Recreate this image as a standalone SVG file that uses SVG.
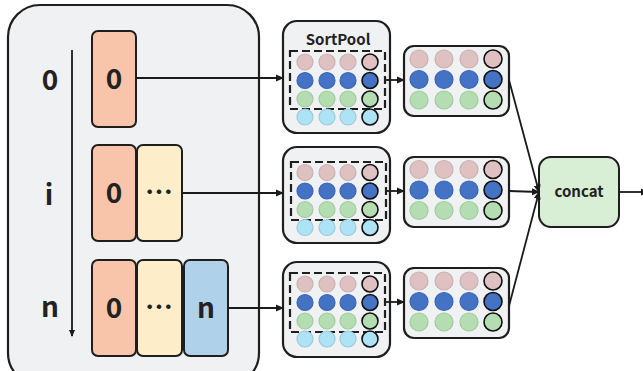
<svg xmlns="http://www.w3.org/2000/svg" width="643" height="371" viewBox="0 0 643 371">
<defs>
<marker id="ah" markerWidth="8" markerHeight="8" refX="7" refY="4" orient="auto" markerUnits="userSpaceOnUse">
<path d="M0,0.5 L8,4 L0,7.5 Z" fill="#1a1a1a"/>
</marker>
<marker id="ahs" markerWidth="7" markerHeight="7" refX="6" refY="3.5" orient="auto" markerUnits="userSpaceOnUse">
<path d="M0,0.5 L7,3.5 L0,6.5 Z" fill="#1a1a1a"/>
</marker>
</defs>
<style>
text{font-family:"Noto Sans CJK SC","Noto Sans",sans-serif;fill:#222;text-anchor:middle}
.big{font-size:28px;font-weight:bold}
.lbl{font-size:15px;font-weight:bold}
.frame{fill:#f0f1f3;stroke:#1e1e1e;stroke-width:2.2}
.blk{stroke:#1e1e1e;stroke-width:2}
.s{fill:#f8c5aa}.c{fill:#fdedc9}.b{fill:#b0d1ea}
.pk{fill:#dfc1c1;stroke:#c8b2b2;stroke-width:1.2}
.bl{fill:#4472c4;stroke:#3b66b4;stroke-width:1.2}
.gr{fill:#b4deb2;stroke:#a3caa1;stroke-width:1.2}
.lb{fill:#aee2f5;stroke:#9ccadd;stroke-width:1.2}
.k{stroke:#111;stroke-width:1.6}
.dash{fill:none;stroke:#1e1e1e;stroke-width:2.2;stroke-dasharray:8,4}
.ln{fill:none;stroke:#1a1a1a;stroke-width:1.8}
</style>

<g id="container">
<rect class="frame" x="8" y="5" width="251" height="380" rx="32"/>
<line class="ln" x1="72" y1="50" x2="72" y2="336" stroke-width="1.5" marker-end="url(#ahs)"/>
<text class="big" x="50" y="90">0</text>
<text class="big" x="49" y="205">i</text>
<text class="big" x="50" y="317">n</text>
</g>

<g id="seq0">
<rect class="blk s" x="92" y="31" width="44" height="96" rx="6"/>
<text class="big" x="114" y="89">0</text>
</g>
<g id="seqi">
<rect class="blk s" x="92" y="145" width="44" height="96" rx="6"/>
<rect class="blk c" x="137" y="145" width="45" height="96" rx="6"/>
<text class="big" x="114" y="203">0</text>
<text class="big" x="159" y="203">…</text>
</g>
<g id="seqn">
<rect class="blk s" x="92" y="260" width="44" height="96" rx="6"/>
<rect class="blk c" x="137" y="260" width="45" height="96" rx="6"/>
<rect class="blk b" x="184" y="260" width="44" height="96" rx="6"/>
<text class="big" x="114" y="318">0</text>
<text class="big" x="159" y="318">…</text>
<text class="big" x="206" y="318">n</text>
</g>

<g id="sortpool1">
<rect class="frame" x="283" y="21" width="107" height="112" rx="14"/>
<text class="lbl" x="338" y="45">SortPool</text>
<rect class="dash" x="290" y="51" width="95" height="58"/>
<g transform="translate(0,62)">
<circle class="pk" cx="305" cy="0" r="8"/><circle class="pk" cx="327" cy="0" r="8"/><circle class="pk" cx="348" cy="0" r="8"/><circle class="pk k" cx="370" cy="0" r="8"/>
<circle class="bl" cx="305" cy="18.5" r="8"/><circle class="bl" cx="327" cy="18.5" r="8"/><circle class="bl" cx="348" cy="18.5" r="8"/><circle class="bl k" cx="370" cy="18.5" r="8"/>
<circle class="gr" cx="305" cy="37" r="8"/><circle class="gr" cx="327" cy="37" r="8"/><circle class="gr" cx="348" cy="37" r="8"/><circle class="gr k" cx="370" cy="37" r="8"/>
<circle class="lb" cx="305" cy="55" r="8"/><circle class="lb" cx="327" cy="55" r="8"/><circle class="lb" cx="348" cy="55" r="8"/><circle class="lb k" cx="370" cy="55" r="8"/>
</g>
</g>
<g id="sortpool2">
<rect class="frame" x="283" y="147" width="107" height="96" rx="14"/>
<rect class="dash" x="291" y="162" width="95" height="58"/>
<g transform="translate(0,172.5)">
<circle class="pk" cx="305" cy="0" r="8"/><circle class="pk" cx="327" cy="0" r="8"/><circle class="pk" cx="348" cy="0" r="8"/><circle class="pk k" cx="370" cy="0" r="8"/>
<circle class="bl" cx="305" cy="18.5" r="8"/><circle class="bl" cx="327" cy="18.5" r="8"/><circle class="bl" cx="348" cy="18.5" r="8"/><circle class="bl k" cx="370" cy="18.5" r="8"/>
<circle class="gr" cx="305" cy="37" r="8"/><circle class="gr" cx="327" cy="37" r="8"/><circle class="gr" cx="348" cy="37" r="8"/><circle class="gr k" cx="370" cy="37" r="8"/>
<circle class="lb" cx="305" cy="55" r="8"/><circle class="lb" cx="327" cy="55" r="8"/><circle class="lb" cx="348" cy="55" r="8"/><circle class="lb k" cx="370" cy="55" r="8"/>
</g>
</g>
<g id="sortpool3">
<rect class="frame" x="283" y="262" width="107" height="95" rx="14"/>
<rect class="dash" x="290" y="273" width="95" height="59"/>
<g transform="translate(0,284)">
<circle class="pk" cx="305" cy="0" r="8"/><circle class="pk" cx="327" cy="0" r="8"/><circle class="pk" cx="348" cy="0" r="8"/><circle class="pk k" cx="370" cy="0" r="8"/>
<circle class="bl" cx="305" cy="18.5" r="8"/><circle class="bl" cx="327" cy="18.5" r="8"/><circle class="bl" cx="348" cy="18.5" r="8"/><circle class="bl k" cx="370" cy="18.5" r="8"/>
<circle class="gr" cx="305" cy="37" r="8"/><circle class="gr" cx="327" cy="37" r="8"/><circle class="gr" cx="348" cy="37" r="8"/><circle class="gr k" cx="370" cy="37" r="8"/>
<circle class="lb" cx="305" cy="55" r="8"/><circle class="lb" cx="327" cy="55" r="8"/><circle class="lb" cx="348" cy="55" r="8"/><circle class="lb k" cx="370" cy="55" r="8"/>
</g>
</g>

<g id="pooled1">
<rect class="frame" x="404" y="46" width="105" height="70" rx="10"/>
<g transform="translate(0,59)">
<circle class="pk" cx="419" cy="0" r="9"/><circle class="pk" cx="444" cy="0" r="9"/><circle class="pk" cx="469" cy="0" r="9"/><circle class="pk k" cx="493" cy="0" r="9"/>
<circle class="bl" cx="419" cy="20.5" r="9"/><circle class="bl" cx="444" cy="20.5" r="9"/><circle class="bl" cx="469" cy="20.5" r="9"/><circle class="bl k" cx="493" cy="20.5" r="9"/>
<circle class="gr" cx="419" cy="41" r="9"/><circle class="gr" cx="444" cy="41" r="9"/><circle class="gr" cx="469" cy="41" r="9"/><circle class="gr k" cx="493" cy="41" r="9"/>
</g>
</g>
<g id="pooled2">
<rect class="frame" x="404" y="157" width="105" height="70" rx="10"/>
<g transform="translate(0,169.5)">
<circle class="pk" cx="419" cy="0" r="9"/><circle class="pk" cx="444" cy="0" r="9"/><circle class="pk" cx="469" cy="0" r="9"/><circle class="pk k" cx="493" cy="0" r="9"/>
<circle class="bl" cx="419" cy="20.5" r="9"/><circle class="bl" cx="444" cy="20.5" r="9"/><circle class="bl" cx="469" cy="20.5" r="9"/><circle class="bl k" cx="493" cy="20.5" r="9"/>
<circle class="gr" cx="419" cy="41" r="9"/><circle class="gr" cx="444" cy="41" r="9"/><circle class="gr" cx="469" cy="41" r="9"/><circle class="gr k" cx="493" cy="41" r="9"/>
</g>
</g>
<g id="pooled3">
<rect class="frame" x="404" y="268" width="105" height="70" rx="10"/>
<g transform="translate(0,281)">
<circle class="pk" cx="419" cy="0" r="9"/><circle class="pk" cx="444" cy="0" r="9"/><circle class="pk" cx="469" cy="0" r="9"/><circle class="pk k" cx="493" cy="0" r="9"/>
<circle class="bl" cx="419" cy="20.5" r="9"/><circle class="bl" cx="444" cy="20.5" r="9"/><circle class="bl" cx="469" cy="20.5" r="9"/><circle class="bl k" cx="493" cy="20.5" r="9"/>
<circle class="gr" cx="419" cy="41" r="9"/><circle class="gr" cx="444" cy="41" r="9"/><circle class="gr" cx="469" cy="41" r="9"/><circle class="gr k" cx="493" cy="41" r="9"/>
</g>
</g>

<g id="concat">
<rect class="blk" x="539" y="157" width="80" height="70" rx="12" fill="#d8eed5"/>
<text class="lbl" x="579" y="197">concat</text>
</g>

<g id="connectors">
<line class="ln" x1="136" y1="78" x2="283" y2="78" marker-end="url(#ah)"/>
<line class="ln" x1="182" y1="193" x2="283" y2="193" marker-end="url(#ah)"/>
<line class="ln" x1="228" y1="308" x2="283" y2="308" marker-end="url(#ah)"/>
<line class="ln" x1="386" y1="80" x2="404" y2="80" marker-end="url(#ah)"/>
<line class="ln" x1="386" y1="191" x2="404" y2="191" marker-end="url(#ah)"/>
<line class="ln" x1="386" y1="302" x2="404" y2="302" marker-end="url(#ah)"/>
<line class="ln" x1="509" y1="80" x2="539" y2="192" marker-end="url(#ah)"/>
<line class="ln" x1="509" y1="191" x2="539" y2="192" marker-end="url(#ah)"/>
<line class="ln" x1="509" y1="306" x2="539" y2="192" marker-end="url(#ah)"/>
<line class="ln" x1="619" y1="192" x2="648" y2="192" marker-end="url(#ah)"/>
</g>
</svg>
